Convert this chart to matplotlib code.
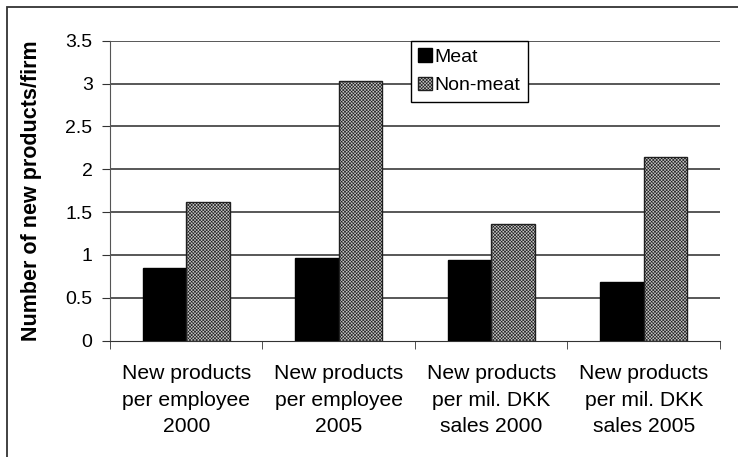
import numpy as np
import matplotlib
matplotlib.use('Agg')
from matplotlib import pyplot as plt
from matplotlib.patches import Rectangle

categories = ['New products\nper employee\n2000', 'New products\nper employee\n2005',
              'New products\nper mil. DKK\nsales 2000', 'New products\nper mil. DKK\nsales 2005']
meat = [0.85, 0.96, 0.94, 0.69]
non_meat = [1.62, 3.03, 1.365, 2.14]
series_names = ['Meat', 'Non-meat']
yticks = [0, 0.5, 1, 1.5, 2, 2.5, 3, 3.5]
ytick_labels = ['0', '0.5', '1', '1.5', '2', '2.5', '3', '3.5']

plt.rcParams['font.family'] = ['Liberation Sans', 'DejaVu Sans']
plt.rcParams['hatch.linewidth'] = 0.45
plt.rcParams['hatch.color'] = '#1a1a1a'

fig = plt.figure(figsize=(7.38, 4.57), dpi=100)
ax = fig.add_axes([0.149, 0.2545, 0.8266, 0.6565])

x = np.arange(len(categories))
w = 0.286
ax.bar(x - w / 2, meat, w, color='black', edgecolor='black', lw=1, label=series_names[0], zorder=3)
ax.bar(x + w / 2, non_meat, w, color='#c4c4c4', edgecolor='#202020', lw=1, hatch='xxxxxxxxxx',
       label=series_names[1], zorder=3)

ax.set_xlim(-0.5, len(categories) - 0.5)
ax.set_ylim(0, 3.5)
ax.set_yticks(yticks)
ax.set_yticklabels(ytick_labels, fontsize=14)
ax.set_xticks(x)
ax.set_xticklabels(categories, fontsize=15.2, linespacing=1.5)
ax.tick_params(axis='x', length=0, pad=17)
ax.set_xticks(np.arange(len(categories) + 1) - 0.5, minor=True)
ax.tick_params(axis='x', which='minor', length=6, color='#333333')
ax.tick_params(axis='y', length=6, color='#333333', pad=6.5)

for v in yticks[1:]:
    ax.axhline(v, color='#2a2a2a', lw=1.1, zorder=1)

for s in ['top', 'right']:
    ax.spines[s].set_visible(False)
ax.spines['left'].set_color('#555555')
ax.spines['bottom'].set_color('#333333')

ax.set_ylabel('Number of new products/firm', fontsize=15.5, fontweight='bold')
ax.yaxis.set_label_coords(-0.111, 0.5)

leg = ax.legend(loc='upper left', bbox_to_anchor=(0.493, 1.0), borderaxespad=0, fancybox=False,
                edgecolor='black', framealpha=1, fontsize=14, handlelength=0.7, handleheight=0.7,
                handletextpad=0.12, labelspacing=0.55, borderpad=0.4)
leg.get_frame().set_linewidth(1)

fig.add_artist(Rectangle((0.009, -0.5), 2, 0.5 + 0.9847, transform=fig.transFigure,
                         fill=False, lw=1.3, edgecolor='#333333'))

fig.savefig('out.png', dpi=100)
